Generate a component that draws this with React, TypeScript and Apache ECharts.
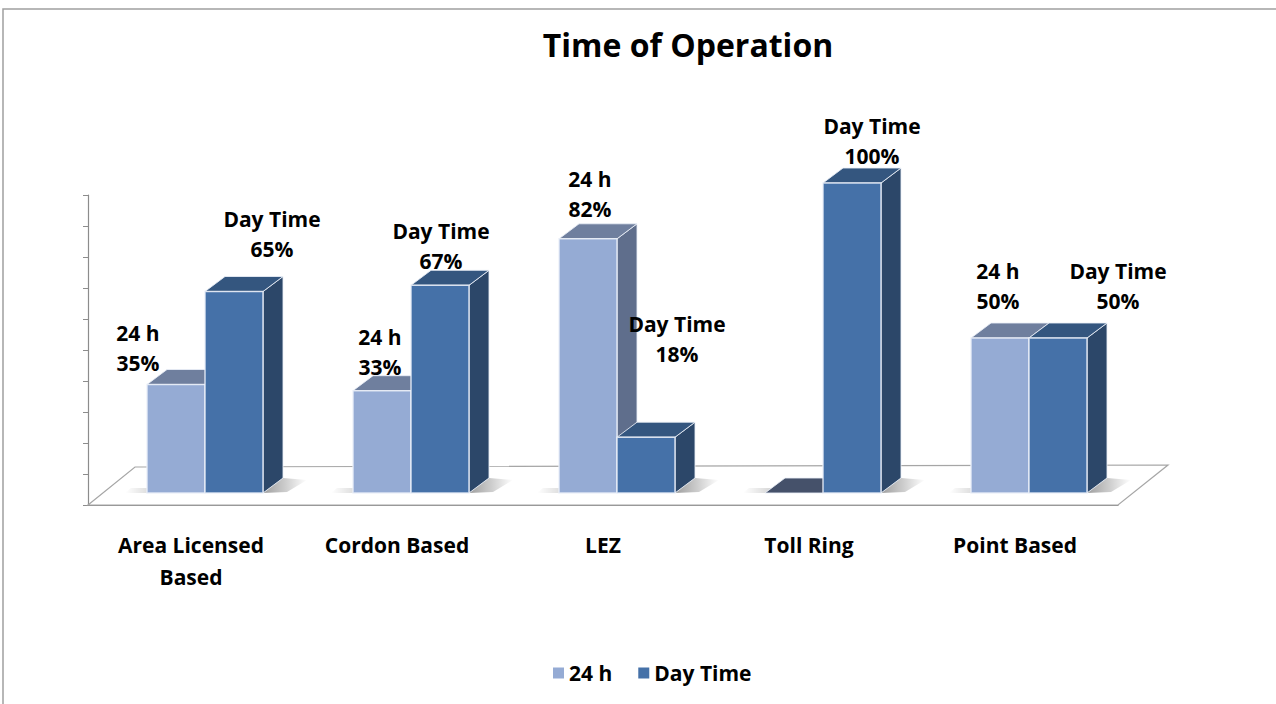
import React, { useEffect, useRef } from 'react';
import * as echarts from 'echarts';

const categories = ['Area Licensed\nBased', 'Cordon Based', 'LEZ', 'Toll Ring', 'Point Based'];
const seriesNames = ['24 h', 'Day Time'];
const hours24 = [35, 33, 82, 0, 50];
const dayTime = [65, 67, 18, 100, 50];
const chartTitle = 'Time of Operation';

// label placement offsets (px) relative to the top-centre of each bar's front face
const labelOffsets24 = [[-38, -37], [-2, -39], [2, -45], [0, 0], [-2, -52]];
const labelOffsetsDay = [[38, -58], [1, -39], [31, -98], [20, -42], [60, -52]];

const FONT = '"Open Sans", Lato, sans-serif';
const BAND_PX = 206;
const BAR_W = 58 / BAND_PX;
const SHIFT = 14 / BAND_PX;
const LIFT = -12;
const DDX = 20;
const DDY = -15;

const colors24 = { front: '#95abd4', top: '#6f7f9e', side: '#5f6e8c', zero: '#45516a' };
const colorsDay = { front: '#4571a8', top: '#34567f', side: '#2c4769', zero: '#2c4769' };

function makeBarRender(idx: number, colors: any, offsets: number[][], name: string) {
  return (params: any, api: any) => {
    const i = api.value(0);
    const v = api.value(1);
    const band = api.size([1, 0])[0];
    const w = band * BAR_W;
    const base = api.coord([i, 0]);
    const top = api.coord([i, v]);
    const x0 = base[0] + band * SHIFT + (idx === 0 ? -w : 0);
    const x1 = x0 + w;
    const yb = base[1] + LIFT;
    const yt = top[1] + LIFT;
    const children: any[] = [];
    const edge = 'rgba(235,240,248,0.85)';
    if (idx === 0) {
      const pl = x0;
      const pr = x0 + 2 * w + DDX;
      children.push({
        type: 'polygon',
        shape: { points: [[pl - 22, yb], [pl, yb], [pl + 6, yb - 5], [pl - 16, yb - 5]] },
        style: {
          fill: { type: 'linear', x: 0, y: 0, x2: 1, y2: 0, colorStops: [
            { offset: 0, color: 'rgba(0,0,0,0)' }, { offset: 1, color: 'rgba(0,0,0,0.16)' }] },
        },
        silent: true,
      });
      children.push({
        type: 'polygon',
        shape: { points: [[pr - DDX, yb], [pr, yb + DDY], [pr + 24, yb + DDY + 2], [pr + 4, yb - 1]] },
        style: {
          fill: { type: 'linear', x: 0, y: 0, x2: 1, y2: 0, colorStops: [
            { offset: 0, color: 'rgba(0,0,0,0.38)' },
            { offset: 0.5, color: 'rgba(0,0,0,0.2)' },
            { offset: 1, color: 'rgba(0,0,0,0)' }] },
        },
        silent: true,
      });
    }
    if (v === 0) {
      children.push({
        type: 'polygon',
        shape: { points: [[x0, yb], [x0 + DDX, yb + DDY], [x1 + DDX, yb + DDY], [x1, yb]] },
        style: { fill: colors.zero, stroke: edge, lineWidth: 1 },
      });
    } else {
      children.push({
        type: 'polygon',
        shape: { points: [[x1, yt], [x1 + DDX, yt + DDY], [x1 + DDX, yb + DDY], [x1, yb]] },
        style: { fill: colors.side, stroke: edge, lineWidth: 1 },
      });
      children.push({
        type: 'polygon',
        shape: { points: [[x0, yt], [x0 + DDX, yt + DDY], [x1 + DDX, yt + DDY], [x1, yt]] },
        style: { fill: colors.top, stroke: edge, lineWidth: 1 },
      });
      children.push({
        type: 'rect',
        shape: { x: x0, y: yt, width: w, height: yb - yt },
        style: { fill: colors.front, stroke: edge, lineWidth: 1.5 },
      });
      const off = offsets[i];
      children.push({
        type: 'text',
        x: (x0 + x1) / 2 + off[0],
        y: yt + off[1],
        style: {
          text: name + '\n' + v + '%',
          align: 'center',
          verticalAlign: 'middle',
          fontSize: 21,
          fontWeight: 'bold',
          fontFamily: FONT,
          lineHeight: 30,
          fill: '#000',
        },
      });
    }
    return { type: 'group', children };
  };
}

function floorRender(params: any, api: any) {
  const band = api.size([1, 0])[0];
  const a = api.coord([0, 0]);
  const b = api.coord([categories.length - 1, 0]);
  const xl = a[0] - band / 2;
  const xr = b[0] + band / 2;
  const y0 = a[1];
  return {
    type: 'polygon',
    shape: { points: [[xl, y0], [xl + 47, y0 - 38], [xr + 50, y0 - 40], [xr, y0]] },
    style: { fill: '#ffffff', stroke: '#a6a6a6', lineWidth: 1.2 },
    silent: true,
  };
}

export default function App() {
  const ref = useRef<HTMLDivElement>(null);
  useEffect(() => {
    if (!ref.current) return;
    const chart = echarts.init(ref.current, null, { renderer: 'svg' });
    chart.setOption({
      animation: false,
      backgroundColor: '#ffffff',
      title: {
        text: chartTitle,
        left: 683,
        top: 23,
        textAlign: 'center',
        textStyle: { fontSize: 32, fontWeight: 'bold', fontFamily: FONT, color: '#000' },
      },
      legend: {
        data: seriesNames,
        left: 548,
        top: 655,
        icon: 'rect',
        itemWidth: 11,
        itemHeight: 11,
        itemGap: 26,
        textStyle: { fontSize: 21, fontWeight: 'bold', fontFamily: FONT, color: '#000', lineHeight: 26 },
      },
      grid: { left: 88, top: 195, width: 1030, height: 310 },
      xAxis: {
        type: 'category',
        data: categories,
        axisLine: { lineStyle: { color: '#8c8c8c', width: 1.2 } },
        axisTick: { length: 7, lineStyle: { color: '#8c8c8c' } },
        axisLabel: {
          interval: 0, margin: 24, fontSize: 21, fontWeight: 'bold', fontFamily: FONT,
          color: '#000', lineHeight: 32,
        },
        splitLine: { show: false },
      },
      yAxis: {
        type: 'value',
        min: 0,
        max: 100,
        interval: 10,
        axisLine: { show: true, lineStyle: { color: '#8c8c8c', width: 1.2 } },
        axisTick: { show: true, length: 5, lineStyle: { color: '#8c8c8c' } },
        axisLabel: { show: false },
        splitLine: { show: false },
      },
      graphic: [
        {
          type: 'rect',
          shape: { x: 3, y: 9, width: 1300, height: 720 },
          style: { fill: 'none', stroke: '#a0a0a0', lineWidth: 1.5 },
          silent: true,
        },
      ],
      series: [
        {
          type: 'custom',
          name: 'floor',
          z: 1,
          silent: true,
          renderItem: floorRender,
          data: [[0, 0]],
          encode: { x: 0, y: 1 },
        },
        {
          type: 'custom',
          name: seriesNames[0],
          z: 3,
          itemStyle: { color: colors24.front },
          renderItem: makeBarRender(0, colors24, labelOffsets24, seriesNames[0]),
          data: hours24.map((v, i) => [i, v]),
          encode: { x: 0, y: 1 },
        },
        {
          type: 'custom',
          name: seriesNames[1],
          z: 4,
          itemStyle: { color: colorsDay.front },
          renderItem: makeBarRender(1, colorsDay, labelOffsetsDay, seriesNames[1]),
          data: dayTime.map((v, i) => [i, v]),
          encode: { x: 0, y: 1 },
        },
      ],
    });
    return () => chart.dispose();
  }, []);
  return (
    <div
      ref={ref}
      style={{ position: 'absolute', left: 0, top: 0, width: 1276, height: 704 }}
    />
  );
}
